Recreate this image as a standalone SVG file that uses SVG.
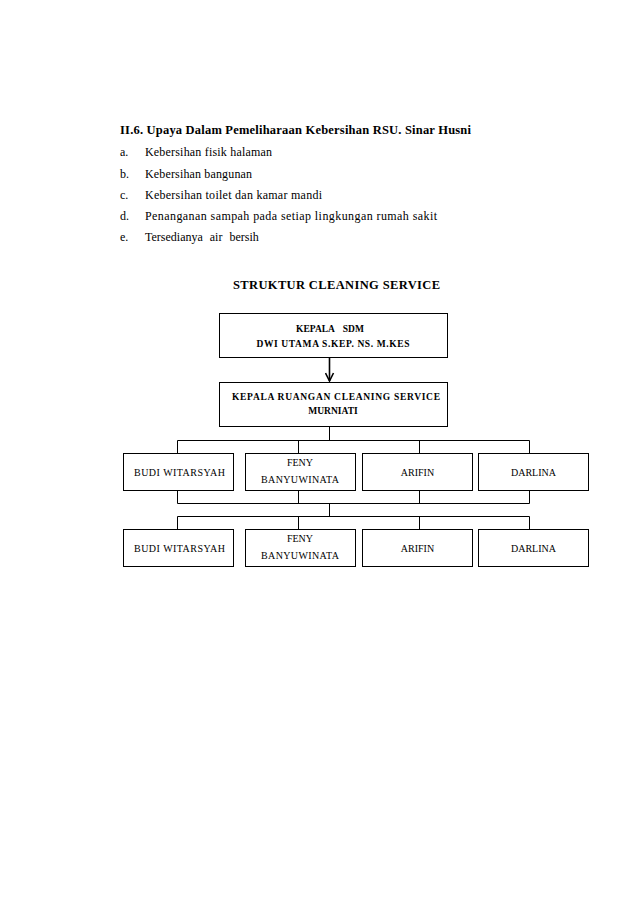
<svg xmlns="http://www.w3.org/2000/svg" width="638" height="903" viewBox="0 0 638 903">
<style>
text{font-family:"Liberation Serif","Times New Roman",serif;fill:#000}
.h{font-size:12.5px;font-weight:bold}
.b{font-size:12px}
.t{font-size:12.5px;font-weight:bold}
.nb{font-size:9.5px;font-weight:bold}
.n{font-size:10px}
.box{fill:#fff;stroke:#000;stroke-width:1}
.c{fill:none;stroke:#000;stroke-width:1}
</style>
<defs>
<marker id="ah" viewBox="0 0 10 10" refX="9" refY="5" markerWidth="10" markerHeight="10" orient="auto" markerUnits="userSpaceOnUse">
<path d="M1,1 L9,5 L1,9" fill="none" stroke="#000" stroke-width="1.6"/>
</marker>
</defs>
<rect width="638" height="903" fill="#fff"/>
<g id="text-body">
<text class="h" x="120" y="134" textLength="351" lengthAdjust="spacing">II.6. Upaya Dalam Pemeliharaan Kebersihan RSU. Sinar Husni</text>
<text class="b" x="120" y="156">a.</text>
<text class="b" x="145" y="156" textLength="127" lengthAdjust="spacing">Kebersihan fisik halaman</text>
<text class="b" x="120" y="178">b.</text>
<text class="b" x="145" y="178" textLength="107" lengthAdjust="spacing">Kebersihan bangunan</text>
<text class="b" x="120" y="199">c.</text>
<text class="b" x="145" y="199" textLength="177" lengthAdjust="spacing">Kebersihan toilet dan kamar mandi</text>
<text class="b" x="120" y="220">d.</text>
<text class="b" x="145" y="220" textLength="292" lengthAdjust="spacing">Penanganan sampah pada setiap lingkungan rumah sakit</text>
<text class="b" x="120" y="241">e.</text>
<text class="b" x="145" y="241" style="word-spacing:4px">Tersedianya air bersih</text>
<text class="t" x="233" y="289" textLength="207" lengthAdjust="spacing">STRUKTUR CLEANING SERVICE</text>
</g>
<g id="connectors">
<line x1="329.5" y1="358" x2="329.5" y2="381" stroke="#000" stroke-width="1.6" marker-end="url(#ah)"/>
<path class="c" d="M329.5,427 V440.5 M177.5,453 V440.5 H529.5 V453 M298.5,440.5 V453 M419.5,440.5 V453"/>
<path class="c" d="M177.5,491 V503.5 H529.5 V491 M298.5,491 V503.5 M419.5,491 V503.5 M329.5,503.5 V516.5 M177.5,529 V516.5 H529.5 V529 M298.5,516.5 V529 M419.5,516.5 V529"/>
</g>
<g id="kepala-sdm">
<rect class="box" x="219.5" y="313.5" width="228" height="44"/>
<text class="nb" x="330" y="332" text-anchor="middle" style="word-spacing:6px">KEPALA SDM</text>
<text class="nb" x="333" y="347" text-anchor="middle" textLength="153" lengthAdjust="spacing">DWI UTAMA S.KEP. NS. M.KES</text>
</g>
<g id="kepala-ruangan">
<rect class="box" x="219.5" y="382.5" width="228" height="44"/>
<text class="nb" x="336" y="400" text-anchor="middle" textLength="208" lengthAdjust="spacing">KEPALA RUANGAN CLEANING SERVICE</text>
<text class="nb" x="333" y="414" text-anchor="middle">MURNIATI</text>
</g>
<g id="r1-budi">
<rect class="box" x="123.5" y="453.5" width="110" height="37"/>
<text class="n" x="179.5" y="476" text-anchor="middle" textLength="91" lengthAdjust="spacing">BUDI WITARSYAH</text>
</g>
<g id="r1-feny">
<rect class="box" x="245.5" y="453.5" width="110" height="37"/>
<text class="n" x="300" y="466" text-anchor="middle">FENY</text>
<text class="n" x="300" y="483" text-anchor="middle" textLength="78" lengthAdjust="spacing">BANYUWINATA</text>
</g>
<g id="r1-arifin">
<rect class="box" x="362.5" y="453.5" width="110" height="37"/>
<text class="n" x="417.5" y="476" text-anchor="middle">ARIFIN</text>
</g>
<g id="r1-darlina">
<rect class="box" x="478.5" y="453.5" width="110" height="37"/>
<text class="n" x="533.5" y="476" text-anchor="middle">DARLINA</text>
</g>
<g id="r2-budi">
<rect class="box" x="123.5" y="529.5" width="110" height="37"/>
<text class="n" x="179.5" y="552" text-anchor="middle" textLength="91" lengthAdjust="spacing">BUDI WITARSYAH</text>
</g>
<g id="r2-feny">
<rect class="box" x="245.5" y="529.5" width="110" height="37"/>
<text class="n" x="300" y="542" text-anchor="middle">FENY</text>
<text class="n" x="300" y="559" text-anchor="middle" textLength="78" lengthAdjust="spacing">BANYUWINATA</text>
</g>
<g id="r2-arifin">
<rect class="box" x="362.5" y="529.5" width="110" height="37"/>
<text class="n" x="417.5" y="552" text-anchor="middle">ARIFIN</text>
</g>
<g id="r2-darlina">
<rect class="box" x="478.5" y="529.5" width="110" height="37"/>
<text class="n" x="533.5" y="552" text-anchor="middle">DARLINA</text>
</g>
</svg>
